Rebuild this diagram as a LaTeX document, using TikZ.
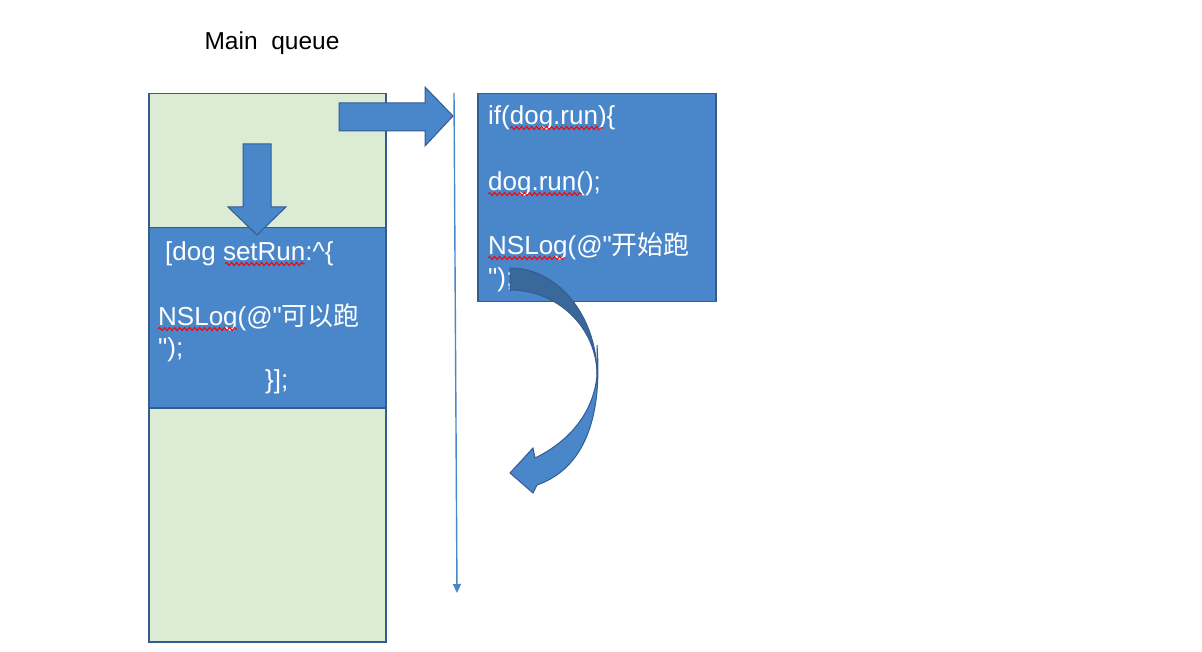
\documentclass[tikz,border=0pt]{standalone}
\usepackage{fontspec}
\setmainfont{Liberation Sans}
\newfontfamily\cjk{Noto Sans CJK SC}
\usetikzlibrary{arrows.meta,decorations.pathmorphing}

\definecolor{queuegreen}{RGB}{220,235,212}
\definecolor{blockblue}{RGB}{74,135,202}
\definecolor{edgeblue}{RGB}{52,92,145}
\definecolor{shadeblue}{RGB}{58,104,155}

\begin{document}
\begin{tikzpicture}[x=1pt,y=-1pt,
    greenbox/.style={draw=edgeblue,line width=1.5pt,fill=queuegreen,
        anchor=north west,inner sep=0pt},
    bluebox/.style={draw=edgeblue,line width=1.5pt,fill=blockblue,
        anchor=north west,inner sep=0pt},
    codeline/.style={anchor=base west,inner sep=0pt,text=white,
        font=\fontsize{26}{33}\selectfont},
    blockarrow/.style={draw=edgeblue,line width=1pt,fill=blockblue},
    timeline/.style={draw=blockblue,line width=1.4pt,
        -{Triangle[length=9pt,width=8pt]}},
    squiggle/.style={draw=red,line width=1pt,
        decorate,decoration={snake,segment length=5pt,amplitude=1.6pt}}]
\useasboundingbox (0,0) rectangle (1202,652);

%the title over the queue
\node[inner sep=0pt,font=\fontsize{24.5}{28}\selectfont] (title) at (272,43) {Main\ \ queue};

%the queue itself, with the block that is set on it
\node[greenbox,minimum width=237pt,minimum height=548pt] (queue) at (148,93) {};
\node[bluebox,minimum width=237pt,minimum height=180pt] (block) at (148,227) {};

%the code in the block
\node[codeline] (setrun) at (165,261) {[dog setRun:\^{}\{};
\node[codeline] (logA) at (158,326) {NSLog(@\textquotedbl{\cjk 可以跑}};
\node[codeline] (endA) at (158,356) {\textquotedbl);};
\node[codeline] (closeA) at (265,388) {\}];};

%the second block, that runs later
\node[bluebox,minimum width=238pt,minimum height=208pt] (run) at (477,93) {};
\node[codeline] (ifrun) at (488,125) {if(dog.run)\{};
\node[codeline] (dogrun) at (488,191) {dog.run();};
\node[codeline] (logB) at (488,255) {NSLog(@\textquotedbl{\cjk 开始跑}};
\node[codeline] (endB) at (488,287) {\textquotedbl);};

%red marks of the spell check
\draw[squiggle] (225,264) -- (305,264);
\draw[squiggle] (158,329) -- (237,329);
\draw[squiggle] (510,128) -- (603,128);
\draw[squiggle] (488,194) -- (582,194);
\draw[squiggle] (488,258) -- (565,258);

%time runs down this line
\coordinate (lineTop) at (454,93);
\coordinate (lineEnd) at (457,593);
\draw[timeline] (lineTop) -- (lineEnd);

%block arrows
\draw[blockarrow] (243,144) -- (271,144) -- (271,207) -- (286,207) -- (257,235)
    -- (228,207) -- (243,207) -- cycle;
\draw[blockarrow] (339,103) -- (425,103) -- (425,87) -- (453,116) -- (425,146)
    -- (425,131) -- (339,131) -- cycle;

%the curved arrow out of the second block
\draw[blockarrow,fill=shadeblue] (510,268) .. controls (558,268) and (597,316) .. (597,375)
    .. controls (597,328) and (558,290) .. (510,290) -- cycle;
\draw[blockarrow] (597,345) .. controls (603,425) and (580,470) .. (537,485)
    -- (533,493) -- (510,473) -- (533,448) -- (535,458)
    .. controls (572,440) and (594,410) .. (597,375) -- cycle;
\end{tikzpicture}
\end{document}
